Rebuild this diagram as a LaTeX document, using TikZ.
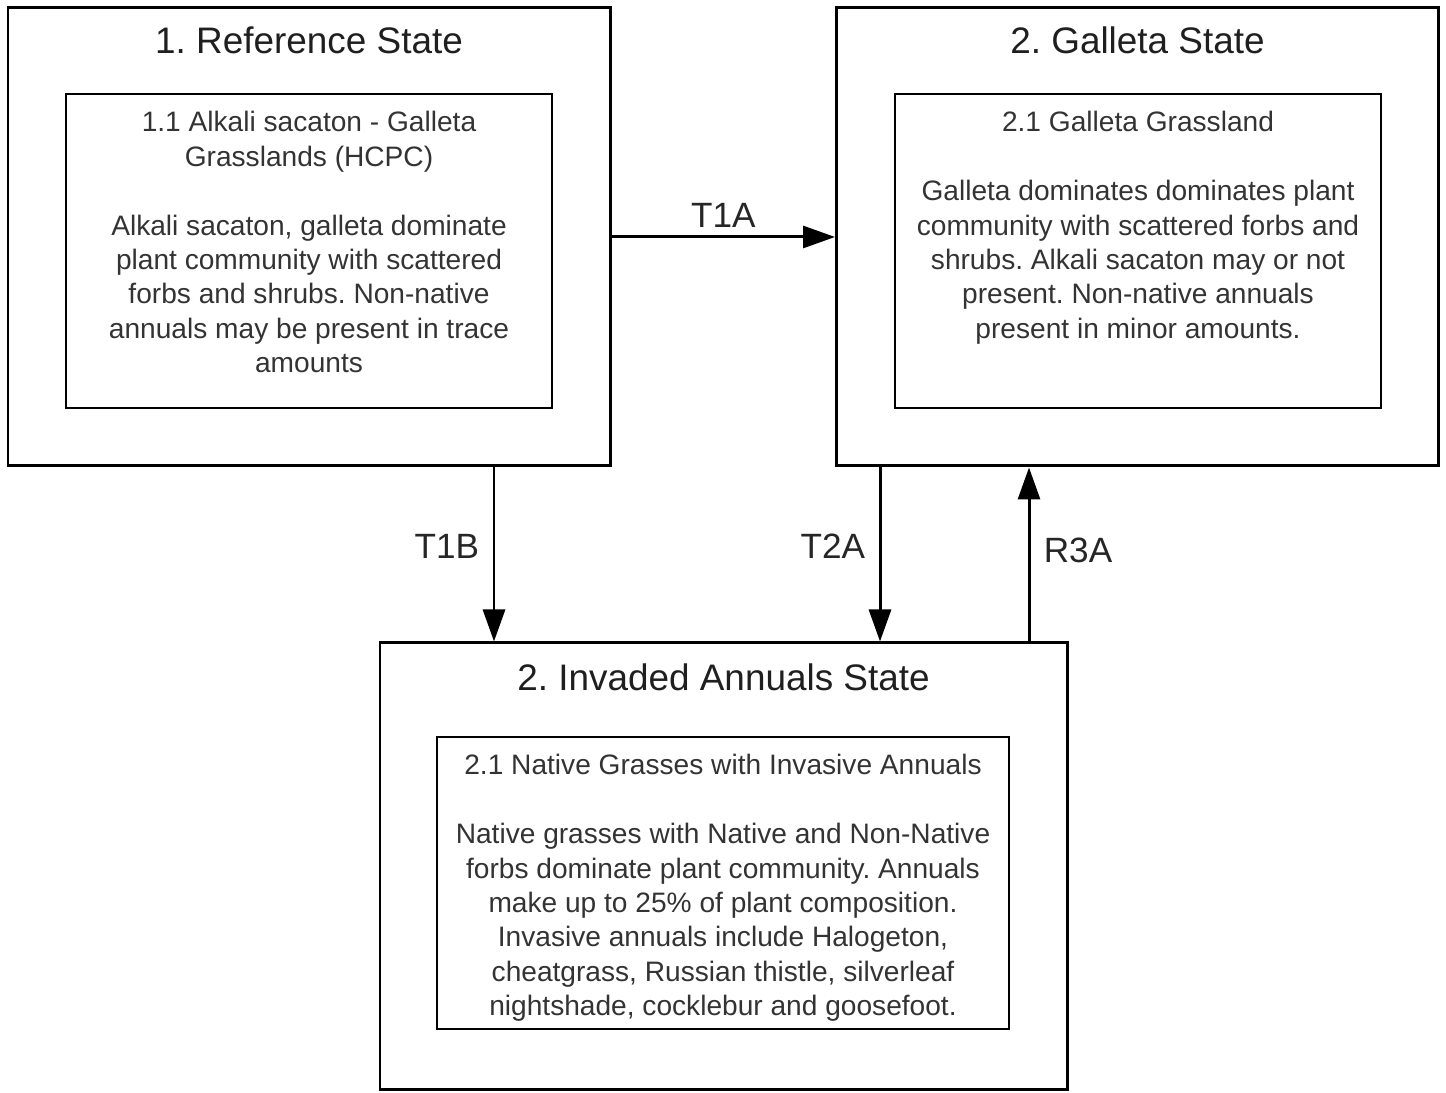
\documentclass[tikz,border=0pt]{standalone}
\usepackage{fontspec}
\setmainfont{Liberation Sans}
\usetikzlibrary{positioning, arrows.meta}
\frenchspacing

\begin{document}
\begin{tikzpicture}[
    % Styles
    state/.style={ % Outer state box
        rectangle,
        draw,
        line width=1.7pt,
        minimum width=12.04cm,
        minimum height=9.16cm,
        inner sep=0pt
    },
    phase/.style={ % Inner community phase box
        rectangle,
        draw,
        line width=1.1pt,
        minimum width=9.72cm,
        minimum height=6.28cm,
        inner sep=0pt
    },
    title/.style={
        text=black!88,
        font=\fontsize{21}{25}\selectfont
    },
    desc/.style={
        text=black!80,
        align=center,
        inner sep=0pt,
        font=\fontsize{16}{19.6}\selectfont
    },
    arrow/.style={
        -{Triangle[length=0.64cm, width=0.44cm]},
        line width=1.7pt
    },
    tlabel/.style={
        text=black!85,
        font=\fontsize{20}{24}\selectfont
    }
]
    \useasboundingbox (0,0) rectangle (28.92,21.86);

    % State boxes
    \node[state] (ref) at (6.18,17.12) {};
    \node[state] (gal) at (22.75,17.12) {};
    \node[state, minimum width=13.74cm, minimum height=8.94cm] (inv) at (14.47,4.53) {};

    % State titles
    \node[title] (reftitle) at (6.18,21.06) {1. Reference State};
    \node[title] (galtitle) at (22.75,21.06) {2. Galleta State};
    \node[title] (invtitle) at (14.47,8.32) {2. Invaded Annuals State};

    % Community phase boxes
    \node[phase] (refin) at (6.18,16.84) {};
    \node[phase] (galin) at (22.76,16.84) {};
    \node[phase, minimum width=11.44cm, minimum height=5.84cm] (invin) at (14.46,4.20) {};

    % Community phase texts
    \node[desc, anchor=north] (reftext) [below=0.36cm of refin.north] {1.1 Alkali sacaton - Galleta\\Grasslands (HCPC)\\[19.6pt]
        Alkali sacaton, galleta dominate\\plant community with scattered\\forbs and shrubs. Non-native\\annuals may be present in trace\\amounts};
    \node[desc, anchor=north] (galtext) [below=0.36cm of galin.north] {2.1 Galleta Grassland\\[19.6pt]
        Galleta dominates dominates plant\\community with scattered forbs and\\shrubs. Alkali sacaton may or not\\present. Non-native annuals\\present in minor amounts.};
    \node[desc, anchor=north] (invtext) [below=0.36cm of invin.north] {2.1 Native Grasses with Invasive Annuals\\[19.6pt]
        Native grasses with Native and Non-Native\\forbs dominate plant community. Annuals\\make up to 25\% of plant composition.\\Invasive annuals include Halogeton,\\cheatgrass, Russian thistle, silverleaf\\nightshade, cocklebur and goosefoot.};

    % Transitions
    \draw[arrow] (ref.east) -- node[tlabel, above=0.05cm] (t1a) {T1A} (gal.west);
    \draw[arrow] ([xshift=3.7cm]ref.south) -- node[tlabel, left=0.15cm, yshift=0.17cm] (t1b) {T1B} ([xshift=3.7cm]ref.south |- inv.north);
    \draw[arrow] ([xshift=-5.15cm]gal.south) -- node[tlabel, left=0.15cm, yshift=0.17cm] (t2a) {T2A} ([xshift=-5.15cm]gal.south |- inv.north);
    \draw[arrow] ([xshift=-2.17cm]gal.south |- inv.north) -- node[tlabel, right=0.15cm, yshift=0.08cm] (r3a) {R3A} ([xshift=-2.17cm]gal.south);
\end{tikzpicture}
\end{document}
